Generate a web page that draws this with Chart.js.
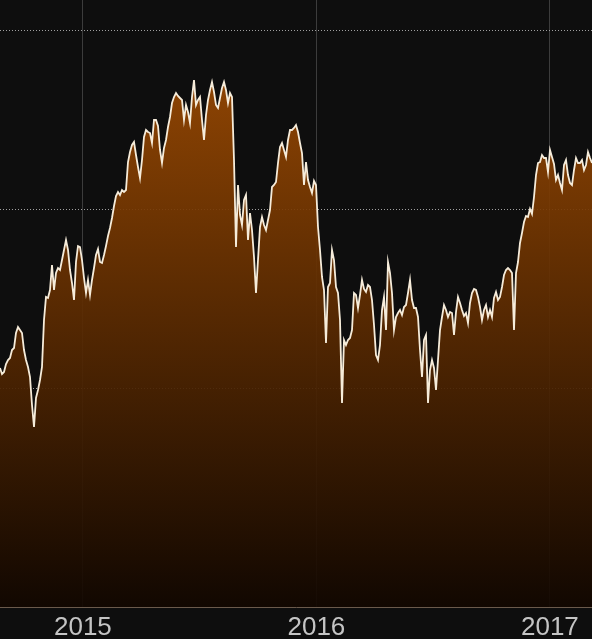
<!DOCTYPE html>
<html>
<head>
<meta charset="utf-8">
<script src="https://cdn.jsdelivr.net/npm/chart.js@4/dist/chart.umd.min.js"></script>
<style>
	html, body { margin: 0; padding: 0; background: #0e0e0e; }
	canvas { display: block; background: #0e0e0e; }
</style>
</head>
<body>
<canvas id="myChart" width="592" height="639"></canvas>
<script>
// closing values, one every ~3 days, split by calendar year
const close2014 = [23.9, 23.3, 23.5, 24.3, 24.7, 24.9, 25.7, 25.9, 27.4, 28.0, 27.7, 27.4, 25.7, 24.7, 24.0, 23.0, 20.2, 18.0, 20.9, 21.7, 22.7, 24.0, 28.7, 31.0, 30.9, 31.7, 34.2, 31.7, 33.4, 33.9, 33.7, 34.7, 35.7, 36.7, 35.7, 33.7, 32.4, 30.7, 34.5, 36.1, 36.0, 34.7];
const close2015 = [32.9, 31.4, 32.7, 31.2, 32.7, 33.9, 35.2, 35.8, 34.5, 34.4, 35.2, 36.1, 37.1, 37.9, 38.9, 40.1, 41.1, 41.5, 41.2, 41.7, 41.5, 41.7, 44.5, 45.5, 46.2, 46.5, 45.2, 44.0, 42.9, 44.7, 47.0, 47.7, 47.5, 47.4, 46.4, 48.7, 48.7, 48.1, 45.7, 44.4, 45.9, 46.7, 48.0, 49.0, 50.4, 51.0, 51.4, 51.1, 50.9, 50.7, 48.7, 50.2, 49.5, 48.4, 51.0, 52.7, 50.2, 50.7, 51.0, 48.7, 46.7, 49.2, 50.7, 51.7, 52.5, 51.5, 50.2, 49.9, 50.9, 51.9, 52.5, 51.7, 50.4, 51.4, 51.0, 44.7, 36.0, 42.2, 39.2, 38.2, 40.7, 41.2, 36.7, 39.4, 37.7, 35.0, 31.4, 34.7, 38.0, 39.0, 38.2, 37.7, 38.7, 39.7, 42.0, 42.2, 42.5, 44.4, 46.0, 46.4, 45.7, 45.0, 46.7, 47.7, 47.7, 47.9, 48.2, 47.5, 46.4, 45.4, 42.2, 44.5, 42.7, 42.0, 41.4, 42.6];
const close2016 = [42.2, 38.0, 35.7, 33.0, 31.7, 26.4, 32.0, 32.4, 35.7, 34.7, 32.0, 31.4, 28.7, 20.4, 26.7, 26.2, 26.7, 26.9, 27.7, 31.4, 31.2, 29.9, 31.2, 32.7, 31.8, 31.5, 32.2, 32.0, 30.7, 28.2, 25.2, 24.7, 26.2, 29.7, 31.0, 27.7, 34.5, 33.4, 31.4, 27.7, 29.0, 29.4, 29.7, 29.2, 30.0, 30.2, 31.4, 32.7, 30.7, 29.9, 29.9, 29.0, 25.7, 23.0, 26.7, 27.2, 20.4, 23.7, 24.7, 23.9, 21.7, 24.7, 27.7, 29.0, 30.2, 29.7, 29.0, 29.5, 29.4, 27.2, 29.5, 31.0, 30.4, 29.7, 29.1, 29.4, 28.4, 30.4, 31.4, 31.8, 31.7, 31.0, 30.0, 28.7, 29.7, 30.2, 29.0, 29.7, 29.0, 30.9, 31.5, 30.7, 31.0, 32.0, 33.2, 33.7, 33.9, 33.7, 33.4, 27.7, 33.4, 34.5, 36.4, 37.4, 38.5, 39.1, 39.0, 39.8, 39.3, 41.0, 43.2, 44.4, 44.5, 45.2, 44.9, 44.9, 43.5];
const close2017 = [45.7, 45.0, 44.3, 42.7, 43.2, 42.4, 41.7, 44.2, 44.7, 43.2, 42.4, 42.2, 43.7, 44.9, 44.4, 44.4, 44.7, 43.7, 44.2, 45.5, 44.9, 44.4];

const yearTicks = [2015, 2016, 2017];
const gridLevels = [21.9, 39.8, 57.7];

const firstDate = 2014.645; // in years
const dateStep = 0.0085653; // ~3.1 days

const closes = [...close2014, ...close2015, ...close2016, ...close2017];
const points = closes.map((v, i) => ({ x: firstDate + i * dateStep, y: v }));

function fillGradient(context) {
	const area = context.chart.chartArea;
	if (!area) {
		return "rgba(140,65,0,0.92)";
	}
	const g = context.chart.ctx.createLinearGradient(0, area.top, 0, area.bottom);
	g.addColorStop(0, "rgba(172,82,2,0.92)");
	g.addColorStop(1, "rgba(18,7,0,0.92)");
	return g;
}

new Chart(document.getElementById("myChart"), {
	type: "line",
	data: {
		datasets: [{
			data: points,
			borderColor: "#f6ecda",
			borderWidth: 1.8,
			pointRadius: 0,
			tension: 0,
			fill: "start",
			backgroundColor: fillGradient,
		}],
	},
	options: {
		responsive: false,
		animation: false,
		// labels sit low under the axis, so let the axis box run past the canvas
		layout: { padding: { top: 0, left: 0, right: 0, bottom: -10 } },
		plugins: {
			legend: { display: false },
			tooltip: { enabled: false },
		},
		scales: {
			x: {
				type: "linear",
				min: points[0].x,
				max: points[points.length - 1].x,
				afterBuildTicks: (axis) => {
					axis.ticks = yearTicks.map((v) => ({ value: v }));
				},
				ticks: {
					autoSkip: false,
					maxRotation: 0,
					padding: 8,
					color: "#c4c4c4",
					font: { family: "Liberation Sans", size: 26, lineHeight: 1 },
					callback: (value) => String(value),
				},
				grid: {
					color: "#3c3c3c",
					lineWidth: 1,
					drawTicks: false,
				},
				border: { display: true, color: "#6b5a4c", width: 1 },
			},
			y: {
				min: 0,
				max: 60.7,
				afterBuildTicks: (axis) => {
					axis.ticks = gridLevels.map((v) => ({ value: v }));
				},
				ticks: { display: false },
				grid: {
					color: "#a0a0a0",
					lineWidth: 1,
					drawTicks: false,
				},
				border: { display: false, dash: [1, 2] },
			},
		},
	},
});
</script>
</body>
</html>
